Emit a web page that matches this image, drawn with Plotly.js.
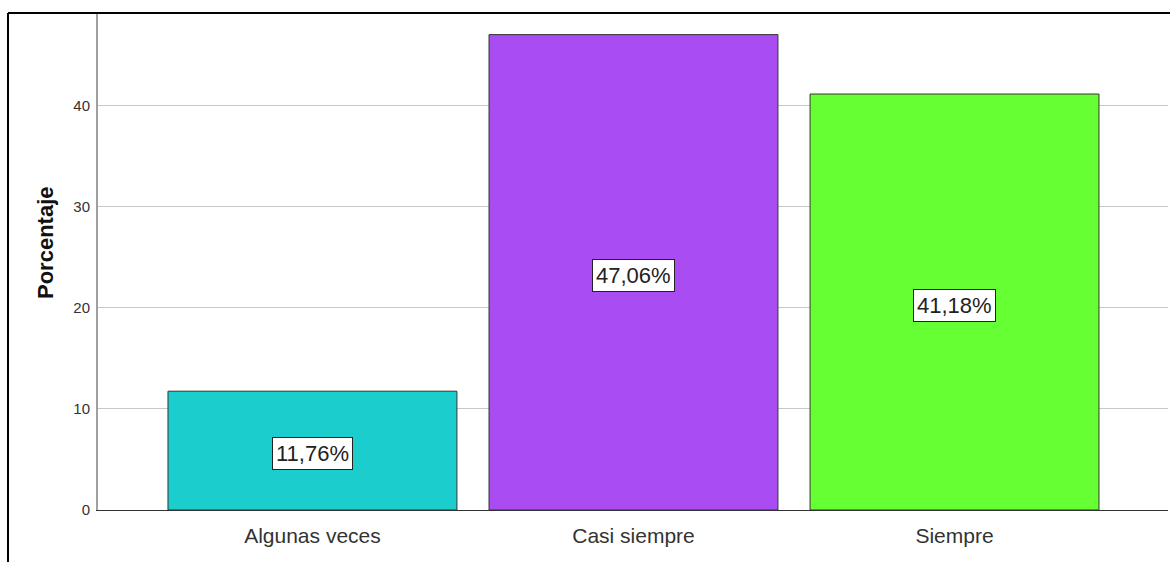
<!DOCTYPE html>
<html>
<head>
<meta charset="utf-8">
<script src="https://cdn.plot.ly/plotly-3.0.1.min.js"></script>
<style>html,body{margin:0;padding:0;background:#fff}#chart{width:1170px;height:562px}</style>
</head>
<body>
<div id="chart"></div>
<script>
const categories = ["Algunas veces", "Casi siempre", "Siempre"];
const percentages = [11.76, 47.06, 41.18];
const labels = ["11,76%", "47,06%", "41,18%"];
const barColors = ["#1CCDCD", "#A94CF2", "#66FF33"];
const yTicks = [0, 10, 20, 30, 40];

const FONT = "Liberation Sans, Arial, sans-serif";

const trace = {
  type: "bar",
  x: categories,
  y: percentages,
  width: 0.9,
  marker: { color: barColors, line: { color: "#333333", width: 1 } },
  hoverinfo: "none"
};

const annotations = categories.map((c, i) => ({
  x: c, y: percentages[i] / 2, xref: "x", yref: "y",
  text: labels[i], showarrow: false,
  font: { family: FONT, size: 22, color: "#222" },
  bgcolor: "#ffffff", bordercolor: "#222222", borderwidth: 1, borderpad: 3,
  yshift: -3
}));
annotations.push({
  text: "<b>Porcentaje</b>", textangle: -90, showarrow: false,
  xref: "paper", yref: "paper", x: (45 - 98) / 1070, y: (510 - 243) / 497,
  xanchor: "center", yanchor: "middle",
  font: { family: FONT, size: 22, color: "#111" }
});

const layout = {
  width: 1170, height: 562,
  margin: { l: 98, r: 2, t: 13, b: 52 },
  paper_bgcolor: "#fff", plot_bgcolor: "#fff",
  showlegend: false,
  bargap: 0.1,
  xaxis: {
    type: "category",
    range: [-0.668, 2.665],
    showline: true, linecolor: "#333", linewidth: 1,
    showgrid: false, ticks: "",
    ticklabelstandoff: 7,
    tickfont: { family: FONT, size: 21, color: "#333" },
    fixedrange: true
  },
  yaxis: {
    range: [0, 49.2],
    tickvals: yTicks,
    showline: true, linecolor: "#a0a0a0", linewidth: 2,
    showgrid: true, gridcolor: "#c8c8c8", gridwidth: 1,
    zeroline: false, ticks: "",
    ticklabelstandoff: 3,
    tickfont: { family: FONT, size: 15, color: "#333" },
    fixedrange: true
  },
  annotations: annotations,
  shapes: [
    { type: "line", xref: "paper", yref: "paper", x0: (8 - 98) / 1070, x1: 1.01, y0: 1, y1: 1,
      line: { color: "#000", width: 2 } },
    { type: "line", xref: "paper", yref: "paper", x0: (8 - 98) / 1070, x1: (8 - 98) / 1070, y0: 1, y1: -0.2,
      line: { color: "#000", width: 2 } }
  ]
};

Plotly.newPlot("chart", [trace], layout, { displayModeBar: false, staticPlot: true });
</script>
</body>
</html>
